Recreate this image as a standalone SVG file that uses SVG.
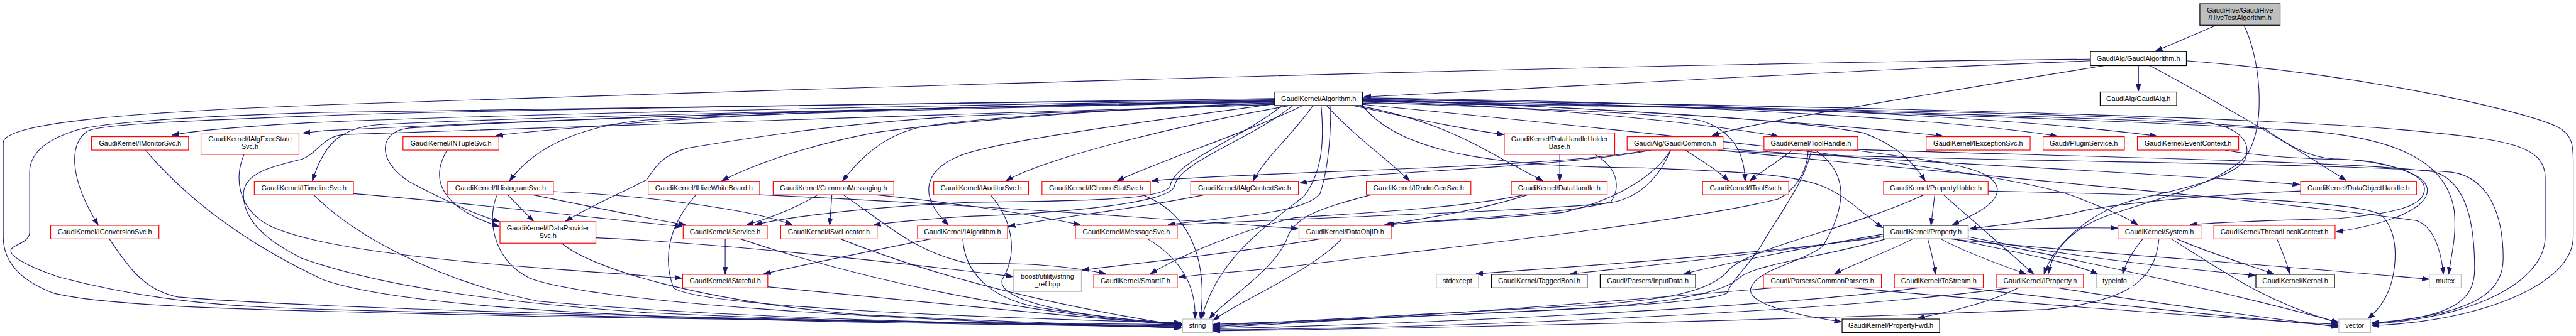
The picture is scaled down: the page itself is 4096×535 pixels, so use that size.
<svg xmlns="http://www.w3.org/2000/svg" width="4096" height="535" viewBox="0 0 4096 535">
<style>
.n rect{fill:#fff;stroke-width:1.4}
.r rect{stroke:#ff0000}
.b rect{stroke:#000}
.g rect{stroke:#bfbfbf}
.root rect{fill:#bfbfbf;stroke:#000}
text{font-family:"Liberation Sans",Arial,Helvetica,sans-serif;font-size:12.8px;fill:#000;text-anchor:middle}
#edges path{fill:none;stroke:#191970;stroke-width:1.3;marker-end:url(#ah)}
</style>
<defs>
<marker id="ah" viewBox="0 0 13 10" markerWidth="13" markerHeight="10" refX="12.5" refY="5" orient="auto" markerUnits="userSpaceOnUse">
<path d="M0,0.6L13,5L0,9.4z" fill="#191970" stroke="#191970" stroke-width="1"/>
</marker>
</defs>
<rect x="0" y="0" width="4096" height="535" fill="#fff"/>
<g transform="scale(0.8567)">
<g id="edges">
<path d="M4113,47 C4080,61 4040,79 4001,95"/>
<path d="M4165,47 C4195,110 4205,220 4175,280 C4140,340 3980,375 3900,405 C3830,435 3808,475 3802,508"/>
<path d="M3969,122 L3969,169"/>
<path d="M3880,113 C3400,132 2900,162 2532,180"/>
<path d="M3906,122 C3700,155 3400,205 3300,224 C3240,236 3205,243 3178,252"/>
<path d="M3880,110 C3000,118 1500,165 600,195 C250,208 6,228 6,265 L6,440 C6,500 60,530 100,545 C220,575 600,578 1000,588 C1500,598 2000,604 2192,606"/>
<path d="M4058,113 C4400,140 4680,205 4745,235 C4775,250 4776,270 4776,300 L4776,440 C4776,530 4600,598 4403,605"/>
<path d="M3990,122 C4100,180 4250,268 4354,335"/>
<path d="M2366,183 C1500,192 900,200 600,209 C300,218 180,230 138,243 C70,265 55,295 55,320 L55,432 C55,452 20,455 20,466 C20,482 80,505 110,515 C300,565 450,570 600,575 C1200,592 1800,600 2192,603"/>
<path d="M2366,186 C1600,198 900,214 600,227 C480,233 380,240 320,251"/>
<path d="M2366,188 C1500,203 900,228 600,243 C585,245 575,246 563,247"/>
<path d="M2366,185 C1500,194 800,207 600,215 C320,225 180,232 162,244 C128,268 128,330 182,418"/>
<path d="M2366,187 C1800,197 1400,210 1200,227 C1100,235 1000,242 921,252"/>
<path d="M2366,189 C1800,200 1000,215 700,232 C630,238 600,270 580,336"/>
<path d="M2366,190 C1800,200 1300,215 1200,223 C1100,232 1000,262 946,336"/>
<path d="M2366,188 C1800,196 1000,222 760,238 C700,244 700,300 760,338 C820,370 880,398 927,412"/>
<path d="M2366,191 C2000,203 1700,235 1621,247 C1500,270 1400,305 1340,336"/>
<path d="M2366,192 C2000,205 1750,225 1697,239 C1640,255 1600,290 1564,336"/>
<path d="M2395,196 C2200,230 1950,290 1867,336"/>
<path d="M2418,196 C2330,240 2150,300 2074,336"/>
<path d="M2437,196 C2400,250 2350,290 2326,336"/>
<path d="M2462,196 C2510,250 2580,300 2616,336"/>
<path d="M2519,196 C2700,230 2760,285 2864,336"/>
<path d="M2510,196 C2600,215 2700,238 2791,250"/>
<path d="M2366,193 C2100,230 1850,262 1780,290 C1720,315 1700,360 1760,418"/>
<path d="M2380,196 C2300,260 2180,300 2172,345 C2165,372 2000,374 1800,376 C1600,385 1450,405 1402,418"/>
<path d="M2400,196 C2320,260 2190,300 2180,345 C2175,375 2000,395 1800,402 C1700,408 1660,413 1622,418"/>
<path d="M2470,196 C2470,280 2460,330 2450,360 C2420,400 2250,405 2168,418"/>
<path d="M2452,196 C2458,260 2455,320 2420,365 C2350,420 2260,480 2230,592"/>
<path d="M2366,194 C1800,210 1000,240 640,250 C600,252 590,285 560,296 C510,308 455,320 452,358 C450,400 480,440 560,480 C700,530 900,560 1200,581 C1600,600 2000,605 2193,608"/>
<path d="M2366,194 C2100,205 1900,212 1800,215 C1550,230 1400,255 1277,275 C1223,290 1215,315 1200,334 C1150,360 1090,386 1050,411"/>
<path d="M2529,188 C2800,195 3100,220 3300,253"/>
<path d="M2529,190 C2800,200 3100,210 3160,225 C3220,245 3238,290 3239,336"/>
<path d="M2529,186 C3000,200 3350,225 3459,247 C3520,270 3550,300 3573,336"/>
<path d="M2529,184 C3000,200 3450,235 3606,253"/>
<path d="M2529,183 C3200,195 3650,225 3818,253"/>
<path d="M2529,182 C3300,192 3800,225 4003,253"/>
<path d="M2529,185 C3300,195 4200,215 4500,245 C4650,260 4724,270 4724,330 L4724,440 C4724,520 4600,590 4403,602"/>
<path d="M2529,187 C3300,200 4000,220 4200,237 C4240,265 4280,292 4330,295 C4420,298 4500,320 4505,350 C4510,385 4440,415 4336,431"/>
<path d="M2529,188 C3300,200 4000,225 4300,245 C4450,260 4540,300 4555,390 C4560,440 4550,470 4545,509"/>
<path d="M2529,192 C3300,200 3900,210 4100,228 C4165,240 4180,270 4165,300 C4130,340 4000,360 3950,375 C3870,400 3810,460 3794,509"/>
<path d="M2529,194 C3000,240 3700,310 3850,365 C3900,385 3940,400 3968,418"/>
<path d="M2529,196 C2600,290 2800,310 3050,312 C3200,318 3320,322 3380,345 C3430,365 3460,400 3494,423"/>
<path d="M3128,279 C3160,300 3190,318 3208,336"/>
<path d="M3059,279 C2950,300 2700,310 2500,318 C2350,324 2200,330 2138,336"/>
<path d="M3065,279 C2950,302 2700,315 2550,325 C2480,330 2440,335 2413,340"/>
<path d="M3101,279 C3080,330 3040,372 2980,378 C2800,395 2400,405 2168,419"/>
<path d="M3101,279 C3070,330 2990,375 2900,395 C2750,410 2650,410 2572,418"/>
<path d="M3188,279 C3500,300 4300,300 4550,320 C4620,330 4646,400 4646,480 C4646,540 4600,585 4403,600"/>
<path d="M3188,279 C3600,320 4200,370 4485,410 C4515,420 4530,460 4535,509"/>
<path d="M3198,276 C3500,300 4000,320 4268,343"/>
<path d="M3327,279 C3300,300 3270,318 3248,336"/>
<path d="M3369,279 C3430,320 3430,380 3383,458 C3340,490 3260,500 3249,537 C3245,565 3330,585 3417,598"/>
<path d="M3362,279 C3350,340 3300,400 3268,458 C3240,500 3215,520 3205,545 C3150,570 2700,585 2252,603"/>
<path d="M3356,279 C3355,320 3330,355 3300,370 C3100,420 2500,480 2400,495 C2300,505 2230,510 2188,515"/>
<path d="M3448,278 C3800,290 4400,300 4520,320 C4580,340 4593,420 4593,500 C4593,560 4550,590 4403,601"/>
<path d="M3440,279 C3600,300 3700,310 3707,350 C3710,380 3660,400 3624,418"/>
<path d="M3591,362 L3584,418"/>
<path d="M3607,362 C3650,400 3720,460 3774,509"/>
<path d="M3571,362 C3450,420 3250,460 3210,500 C3180,540 3100,560 2900,570 C2600,585 2350,600 2252,605"/>
<path d="M3690,355 C4000,362 4380,370 4420,400 C4450,430 4449,480 4440,520 C4430,560 4410,580 4395,592"/>
<path d="M3550,444 C3500,470 3430,495 3405,509"/>
<path d="M3578,444 C3585,470 3590,490 3592,509"/>
<path d="M3602,444 C3650,470 3720,495 3760,509"/>
<path d="M3625,444 C3750,470 3850,490 3893,509"/>
<path d="M3496,435 C3350,460 3200,490 3126,509"/>
<path d="M3496,438 C3300,470 3000,500 2915,509"/>
<path d="M3496,440 C3250,475 2880,498 2740,509"/>
<path d="M3500,444 C3400,475 3260,490 3230,515 C3200,545 3100,565 2900,575 C2600,590 2350,600 2252,607"/>
<path d="M3653,440 C3800,470 4000,495 4186,512"/>
<path d="M3653,444 C3900,490 4200,560 4340,599"/>
<path d="M3653,428 C3750,425 3850,422 3930,424"/>
<path d="M3620,444 C3800,465 4200,490 4508,519"/>
<path d="M3290,535 C3000,560 2600,590 2252,609"/>
<path d="M3440,535 C3700,560 4100,590 4340,603"/>
<path d="M3560,535 C3300,570 2700,600 2252,611"/>
<path d="M3650,535 C3900,565 4200,595 4340,606"/>
<path d="M3746,535 C3700,560 3620,580 3560,591"/>
<path d="M3730,535 C3400,580 2700,610 2252,613"/>
<path d="M3820,535 C4000,565 4250,595 4340,608"/>
<path d="M3977,444 C3960,465 3945,490 3940,509"/>
<path d="M4040,444 C4100,470 4180,495 4220,509"/>
<path d="M4007,445 C4000,520 3950,560 3800,575 C3200,600 2500,612 2252,615"/>
<path d="M4030,444 C4120,500 4200,560 4340,600"/>
<path d="M4226,444 C4235,465 4245,490 4250,509"/>
<path d="M4130,279 C4200,292 4300,296 4367,297 C4420,300 4500,320 4500,351 C4500,380 4460,395 4341,406 C4200,410 4100,414 4065,418"/>
<path d="M4270,355 C4100,362 3900,380 3846,397 C3780,410 3720,418 3656,425"/>
<path d="M270,279 C330,350 430,440 600,520 C800,590 1500,600 2192,607"/>
<path d="M203,444 C240,500 270,540 330,552 C600,575 1500,598 2192,605"/>
<path d="M582,362 C650,430 800,520 1000,560 C1400,595 1900,603 2192,608"/>
<path d="M656,360 C900,380 1100,405 1266,421"/>
<path d="M453,287 C435,330 440,385 497,418 C600,470 900,492 1265,517"/>
<path d="M830,279 C805,320 800,380 926,421"/>
<path d="M942,362 L990,411"/>
<path d="M923,362 C905,400 910,480 983,517 C1100,560 1600,595 2192,609"/>
<path d="M988,362 C1100,385 1200,405 1272,418"/>
<path d="M1027,356 C1200,363 1400,390 1470,418"/>
<path d="M1106,442 C1300,450 1600,480 1880,514"/>
<path d="M1042,452 C1100,500 1300,560 1600,585 C1900,600 2100,605 2192,610"/>
<path d="M1292,362 C1240,420 1230,480 1250,535 C1300,570 1800,590 2192,600"/>
<path d="M1410,362 C1800,380 2200,410 2409,425"/>
<path d="M1518,362 C1480,385 1430,405 1386,418"/>
<path d="M1544,362 L1540,418"/>
<path d="M1565,362 C1650,420 1700,470 1800,490 C1900,488 1990,495 2052,509"/>
<path d="M1625,362 C1750,375 1900,395 2005,418"/>
<path d="M1838,362 C1880,410 1890,470 1860,520 C1850,560 2000,590 2193,601"/>
<path d="M2120,362 C2220,400 2240,500 2228,592"/>
<path d="M2130,444 C2190,480 2220,530 2218,592"/>
<path d="M2236,362 C2100,390 1950,405 1872,421"/>
<path d="M1346,444 L1346,509"/>
<path d="M1728,444 C1600,470 1500,490 1418,509"/>
<path d="M1374,444 C1600,520 1900,585 2193,603"/>
<path d="M1560,444 C1700,500 1900,560 2193,605"/>
<path d="M1425,533 C1700,560 2000,590 2193,604"/>
<path d="M1787,444 C1790,500 1830,560 1950,575 C2050,590 2150,600 2193,602"/>
<path d="M2490,444 C2440,500 2300,560 2252,595"/>
<path d="M2450,444 C2300,470 2100,490 2009,502"/>
<path d="M2836,362 C2750,390 2650,405 2570,418"/>
<path d="M2895,287 L2895,336"/>
<path d="M2960,287 C3000,310 3010,345 2990,375 C2900,400 2700,405 2575,418"/>
<path d="M2545,362 C2460,385 2405,400 2390,440 C2370,500 2270,560 2245,592"/>
<path d="M2830,362 C2700,390 2450,400 2400,405 C2300,430 2200,470 2135,509"/>
</g>
<g id="n_root" class="n root"><rect x="4083" y="7" width="149" height="40"/><text x="4157.5" y="23">GaudiHive/GaudiHive</text><text x="4157.5" y="37">/HiveTestAlgorithm.h</text></g>
<g id="n_GaudiAlgorithm" class="n b"><rect x="3880" y="96" width="178" height="26"/><text x="3969" y="113.5">GaudiAlg/GaudiAlgorithm.h</text></g>
<g id="n_GaudiAlg" class="n b"><rect x="3898" y="171" width="142" height="25"/><text x="3969" y="187.5">GaudiAlg/GaudiAlg.h</text></g>
<g id="n_Algorithm" class="n b"><rect x="2366" y="171" width="163" height="25"/><text x="2447.5" y="187.5">GaudiKernel/Algorithm.h</text></g>
<g id="n_IMonitorSvc" class="n r"><rect x="170" y="254" width="180" height="25"/><text x="260" y="270.5">GaudiKernel/IMonitorSvc.h</text></g>
<g id="n_IAlgExecStateSvc" class="n r"><rect x="373" y="247" width="182" height="40"/><text x="464" y="263">GaudiKernel/IAlgExecState</text><text x="464" y="277">Svc.h</text></g>
<g id="n_INTupleSvc" class="n r"><rect x="748" y="254" width="178" height="25"/><text x="837" y="270.5">GaudiKernel/INTupleSvc.h</text></g>
<g id="n_DataHandleHolderBase" class="n r"><rect x="2792" y="247" width="205" height="40"/><text x="2894.5" y="263">GaudiKernel/DataHandleHolder</text><text x="2894.5" y="277">Base.h</text></g>
<g id="n_GaudiCommon" class="n r"><rect x="3020" y="254" width="178" height="25"/><text x="3109" y="270.5">GaudiAlg/GaudiCommon.h</text></g>
<g id="n_ToolHandle" class="n r"><rect x="3274" y="254" width="174" height="25"/><text x="3361" y="270.5">GaudiKernel/ToolHandle.h</text></g>
<g id="n_IExceptionSvc" class="n r"><rect x="3575" y="254" width="193" height="25"/><text x="3671.5" y="270.5">GaudiKernel/IExceptionSvc.h</text></g>
<g id="n_PluginService" class="n r"><rect x="3792" y="254" width="151" height="25"/><text x="3867.5" y="270.5">Gaudi/PluginService.h</text></g>
<g id="n_EventContext" class="n r"><rect x="3967" y="254" width="188" height="25"/><text x="4061" y="270.5">GaudiKernel/EventContext.h</text></g>
<g id="n_ITimelineSvc" class="n r"><rect x="472" y="337" width="184" height="25"/><text x="564" y="353.5">GaudiKernel/ITimelineSvc.h</text></g>
<g id="n_IHistogramSvc" class="n r"><rect x="831" y="337" width="196" height="25"/><text x="929" y="353.5">GaudiKernel/IHistogramSvc.h</text></g>
<g id="n_IHiveWhiteBoard" class="n r"><rect x="1203" y="337" width="207" height="25"/><text x="1306.5" y="353.5">GaudiKernel/IHiveWhiteBoard.h</text></g>
<g id="n_CommonMessaging" class="n r"><rect x="1435" y="337" width="224" height="25"/><text x="1547" y="353.5">GaudiKernel/CommonMessaging.h</text></g>
<g id="n_IAuditorSvc" class="n r"><rect x="1733" y="337" width="176" height="25"/><text x="1821" y="353.5">GaudiKernel/IAuditorSvc.h</text></g>
<g id="n_IChronoStatSvc" class="n r"><rect x="1934" y="337" width="201" height="25"/><text x="2034.5" y="353.5">GaudiKernel/IChronoStatSvc.h</text></g>
<g id="n_IAlgContextSvc" class="n r"><rect x="2210" y="337" width="200" height="25"/><text x="2310" y="353.5">GaudiKernel/IAlgContextSvc.h</text></g>
<g id="n_IRndmGenSvc" class="n r"><rect x="2536" y="337" width="194" height="25"/><text x="2633" y="353.5">GaudiKernel/IRndmGenSvc.h</text></g>
<g id="n_DataHandle" class="n r"><rect x="2805" y="337" width="178" height="25"/><text x="2894" y="353.5">GaudiKernel/DataHandle.h</text></g>
<g id="n_IToolSvc" class="n r"><rect x="3160" y="337" width="160" height="25"/><text x="3240" y="353.5">GaudiKernel/IToolSvc.h</text></g>
<g id="n_PropertyHolder" class="n r"><rect x="3496" y="337" width="194" height="25"/><text x="3593" y="353.5">GaudiKernel/PropertyHolder.h</text></g>
<g id="n_DataObjectHandle" class="n r"><rect x="4270" y="337" width="215" height="25"/><text x="4377.5" y="353.5">GaudiKernel/DataObjectHandle.h</text></g>
<g id="n_IConversionSvc" class="n r"><rect x="94" y="419" width="201" height="25"/><text x="194.5" y="435.5">GaudiKernel/IConversionSvc.h</text></g>
<g id="n_IDataProviderSvc" class="n r"><rect x="928" y="412" width="178" height="40"/><text x="1017" y="428">GaudiKernel/IDataProvider</text><text x="1017" y="442">Svc.h</text></g>
<g id="n_IService" class="n r"><rect x="1268" y="419" width="156" height="25"/><text x="1346" y="435.5">GaudiKernel/IService.h</text></g>
<g id="n_ISvcLocator" class="n r"><rect x="1449" y="419" width="179" height="25"/><text x="1538.5" y="435.5">GaudiKernel/ISvcLocator.h</text></g>
<g id="n_IAlgorithm" class="n r"><rect x="1703" y="419" width="167" height="25"/><text x="1786.5" y="435.5">GaudiKernel/IAlgorithm.h</text></g>
<g id="n_IMessageSvc" class="n r"><rect x="1996" y="419" width="189" height="25"/><text x="2090.5" y="435.5">GaudiKernel/IMessageSvc.h</text></g>
<g id="n_DataObjID" class="n r"><rect x="2411" y="419" width="171" height="25"/><text x="2496.5" y="435.5">GaudiKernel/DataObjID.h</text></g>
<g id="n_Property" class="n b"><rect x="3496" y="419" width="157" height="25"/><text x="3574.5" y="435.5">GaudiKernel/Property.h</text></g>
<g id="n_System" class="n r"><rect x="3931" y="419" width="154" height="25"/><text x="4008" y="435.5">GaudiKernel/System.h</text></g>
<g id="n_ThreadLocalContext" class="n r"><rect x="4109" y="419" width="225" height="25"/><text x="4221.5" y="435.5">GaudiKernel/ThreadLocalContext.h</text></g>
<g id="n_IStateful" class="n r"><rect x="1267" y="510" width="158" height="25"/><text x="1346" y="526.5">GaudiKernel/IStateful.h</text></g>
<g id="n_string_ref" class="n g"><rect x="1881" y="502" width="126" height="40"/><text x="1944" y="518">boost/utility/string</text><text x="1944" y="532">_ref.hpp</text></g>
<g id="n_SmartIF" class="n r"><rect x="2030" y="510" width="155" height="25"/><text x="2107.5" y="526.5">GaudiKernel/SmartIF.h</text></g>
<g id="n_stdexcept" class="n g"><rect x="2666" y="510" width="78" height="25"/><text x="2705" y="526.5">stdexcept</text></g>
<g id="n_TaggedBool" class="n b"><rect x="2768" y="510" width="178" height="25"/><text x="2857" y="526.5">GaudiKernel/TaggedBool.h</text></g>
<g id="n_InputData" class="n b"><rect x="2970" y="510" width="177" height="25"/><text x="3058.5" y="526.5">Gaudi/Parsers/InputData.h</text></g>
<g id="n_CommonParsers" class="n r"><rect x="3273" y="510" width="219" height="25"/><text x="3382.5" y="526.5">Gaudi/Parsers/CommonParsers.h</text></g>
<g id="n_ToStream" class="n r"><rect x="3516" y="510" width="165" height="25"/><text x="3598.5" y="526.5">GaudiKernel/ToStream.h</text></g>
<g id="n_IProperty" class="n r"><rect x="3706" y="510" width="161" height="25"/><text x="3786.5" y="526.5">GaudiKernel/IProperty.h</text></g>
<g id="n_typeinfo" class="n g"><rect x="3891" y="510" width="68" height="25"/><text x="3925" y="526.5">typeinfo</text></g>
<g id="n_Kernel" class="n b"><rect x="4187" y="510" width="146" height="25"/><text x="4260" y="526.5">GaudiKernel/Kernel.h</text></g>
<g id="n_mutex" class="n g"><rect x="4509" y="510" width="59" height="25"/><text x="4538.5" y="526.5">mutex</text></g>
<g id="n_string" class="n g"><rect x="2195" y="593" width="55" height="25"/><text x="2222.5" y="609.5">string</text></g>
<g id="n_PropertyFwd" class="n b"><rect x="3419" y="593" width="181" height="25"/><text x="3509.5" y="609.5">GaudiKernel/PropertyFwd.h</text></g>
<g id="n_vector" class="n g"><rect x="4341" y="593" width="59" height="25"/><text x="4370.5" y="609.5">vector</text></g>
</g>
</svg>
